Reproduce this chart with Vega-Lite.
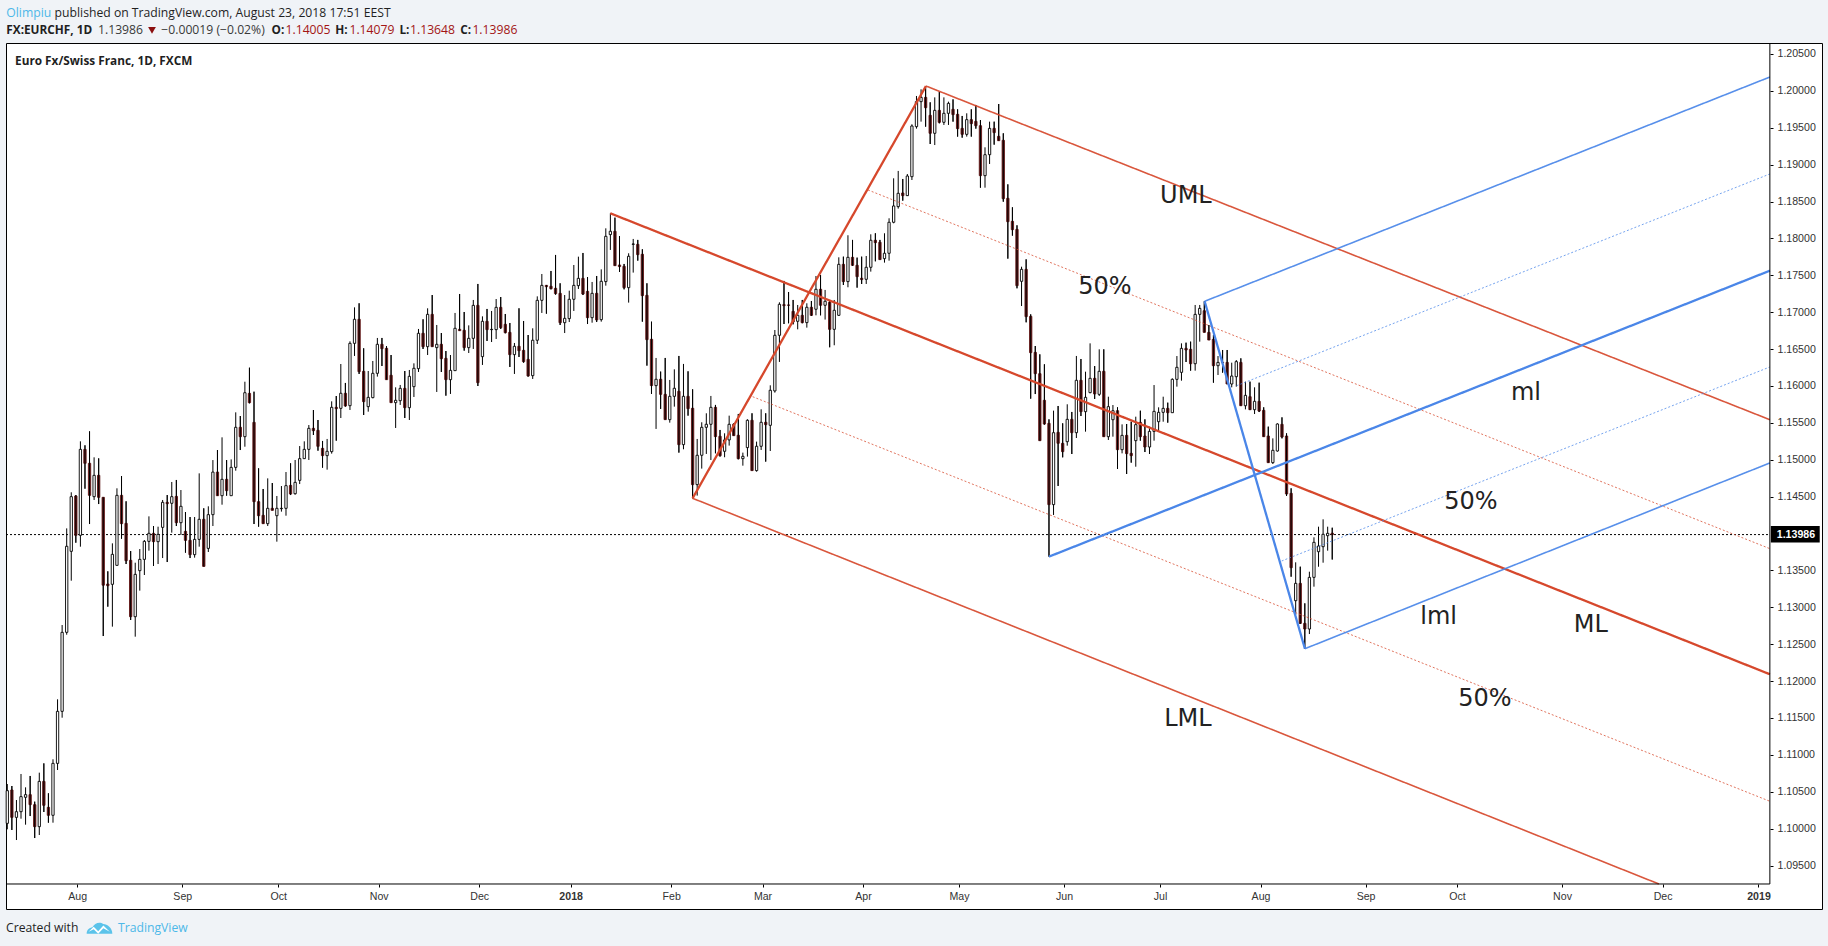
{
"$schema":"https://vega.github.io/schema/vega-lite/v6.json",
"width":1816,"height":866,
"autosize":"none",
"padding":{"left":6,"top":43,"right":6,"bottom":37},
"background":"#f0f3f7",
"view":{"fill":"#ffffff","stroke":"#000000","strokeWidth":1},
"datasets":{
"candles":[
{"n":0,"o":1.10072,"h":1.10605,"l":1.09991,"c":1.10515},{"n":1,"o":1.10524,"h":1.10578,"l":1.09982,"c":1.10153},{"n":2,"o":1.10153,"h":1.10388,"l":1.09846,"c":1.1023},{"n":3,"o":1.1023,"h":1.10741,"l":1.10135,"c":1.10434},{"n":4,"o":1.10425,"h":1.1056,"l":1.10054,"c":1.10461},{"n":5,"o":1.10461,"h":1.10714,"l":1.10171,"c":1.10325},{"n":6,"o":1.10325,"h":1.10366,"l":1.09873,"c":1.10027},{"n":7,"o":1.10027,"h":1.10759,"l":1.09914,"c":1.10641},{"n":8,"o":1.10641,"h":1.10885,"l":1.10226,"c":1.10316},{"n":9,"o":1.10289,"h":1.10479,"l":1.10081,"c":1.10181},
{"n":10,"o":1.10181,"h":1.1094,"l":1.10081,"c":1.10885},{"n":11,"o":1.10885,"h":1.11753,"l":1.10795,"c":1.1159},{"n":12,"o":1.1159,"h":1.1276,"l":1.11504,"c":1.12661},{"n":13,"o":1.12661,"h":1.1407,"l":1.12629,"c":1.13827},{"n":14,"o":1.13759,"h":1.14559,"l":1.13361,"c":1.145},{"n":15,"o":1.14509,"h":1.14522,"l":1.13876,"c":1.13976},{"n":16,"o":1.13976,"h":1.1525,"l":1.13822,"c":1.15141},{"n":17,"o":1.15141,"h":1.15196,"l":1.14608,"c":1.14952},{"n":18,"o":1.14952,"h":1.15385,"l":1.14129,"c":1.14518},{"n":19,"o":1.145,"h":1.15033,"l":1.14455,"c":1.14789},
{"n":20,"o":1.14789,"h":1.15019,"l":1.144,"c":1.14491},{"n":21,"o":1.14491,"h":1.14491,"l":1.12611,"c":1.133},{"n":22,"o":1.13316,"h":1.13488,"l":1.13009,"c":1.13293},{"n":23,"o":1.13312,"h":1.13867,"l":1.12738,"c":1.13718},{"n":24,"o":1.13569,"h":1.14613,"l":1.13569,"c":1.14518},{"n":25,"o":1.14518,"h":1.1478,"l":1.1393,"c":1.14134},{"n":26,"o":1.14138,"h":1.14437,"l":1.13587,"c":1.13632},{"n":27,"o":1.13637,"h":1.13763,"l":1.12828,"c":1.12873},{"n":28,"o":1.12873,"h":1.13605,"l":1.12602,"c":1.13447},{"n":29,"o":1.13497,"h":1.1379,"l":1.13226,"c":1.1365},
{"n":30,"o":1.1365,"h":1.13912,"l":1.13438,"c":1.13894},{"n":31,"o":1.13894,"h":1.14233,"l":1.13768,"c":1.14003},{"n":32,"o":1.14003,"h":1.14102,"l":1.1356,"c":1.1389},{"n":33,"o":1.1389,"h":1.14093,"l":1.13587,"c":1.13989},{"n":34,"o":1.14084,"h":1.14455,"l":1.13668,"c":1.14423},{"n":35,"o":1.14423,"h":1.14522,"l":1.13614,"c":1.14405},{"n":36,"o":1.1441,"h":1.14699,"l":1.14012,"c":1.145},{"n":37,"o":1.14504,"h":1.14726,"l":1.14102,"c":1.14147},{"n":38,"o":1.14147,"h":1.1459,"l":1.1398,"c":1.14369},{"n":39,"o":1.1403,"h":1.14292,"l":1.13741,"c":1.13908},
{"n":40,"o":1.13908,"h":1.14224,"l":1.13668,"c":1.13714},{"n":41,"o":1.13714,"h":1.14224,"l":1.13673,"c":1.13921},{"n":42,"o":1.13921,"h":1.14816,"l":1.13822,"c":1.14193},{"n":43,"o":1.14193,"h":1.14342,"l":1.13555,"c":1.13555},{"n":44,"o":1.13799,"h":1.14369,"l":1.1375,"c":1.14256},{"n":45,"o":1.14256,"h":1.14996,"l":1.14102,"c":1.14833},{"n":46,"o":1.14833,"h":1.15132,"l":1.14513,"c":1.14513},{"n":47,"o":1.14513,"h":1.15304,"l":1.14391,"c":1.14735},{"n":48,"o":1.14735,"h":1.14996,"l":1.14513,"c":1.14581},{"n":49,"o":1.14513,"h":1.15005,"l":1.14513,"c":1.14897},
{"n":50,"o":1.14897,"h":1.15643,"l":1.14852,"c":1.1544},{"n":51,"o":1.1544,"h":1.15593,"l":1.15132,"c":1.15313},{"n":52,"o":1.15313,"h":1.16058,"l":1.15177,"c":1.15909},{"n":53,"o":1.159,"h":1.16248,"l":1.15765,"c":1.15774},{"n":54,"o":1.15507,"h":1.15923,"l":1.14129,"c":1.14432},{"n":55,"o":1.14432,"h":1.14884,"l":1.14093,"c":1.14242},{"n":56,"o":1.14247,"h":1.14604,"l":1.14134,"c":1.14134},{"n":57,"o":1.14134,"h":1.14748,"l":1.14102,"c":1.14342},{"n":58,"o":1.14342,"h":1.14685,"l":1.14315,"c":1.14315},{"n":59,"o":1.14242,"h":1.14509,"l":1.1389,"c":1.14342},
{"n":60,"o":1.14337,"h":1.14644,"l":1.14297,"c":1.14342},{"n":61,"o":1.14342,"h":1.14834,"l":1.14242,"c":1.14649},{"n":62,"o":1.14653,"h":1.14952,"l":1.14522,"c":1.14536},{"n":63,"o":1.1454,"h":1.14997,"l":1.14527,"c":1.14694},{"n":64,"o":1.14721,"h":1.15186,"l":1.14671,"c":1.15015},{"n":65,"o":1.15015,"h":1.1525,"l":1.15015,"c":1.15141},{"n":66,"o":1.15141,"h":1.15471,"l":1.14997,"c":1.15426},{"n":67,"o":1.15426,"h":1.15674,"l":1.15336,"c":1.15394},{"n":68,"o":1.15399,"h":1.15539,"l":1.15123,"c":1.15182},{"n":69,"o":1.15155,"h":1.15255,"l":1.14893,"c":1.15056},
{"n":70,"o":1.15056,"h":1.15282,"l":1.14866,"c":1.15115},{"n":71,"o":1.1511,"h":1.15792,"l":1.15083,"c":1.15711},{"n":72,"o":1.15711,"h":1.15864,"l":1.15259,"c":1.15693},{"n":73,"o":1.15697,"h":1.16298,"l":1.15566,"c":1.15901},{"n":74,"o":1.15901,"h":1.16041,"l":1.1572,"c":1.15729},{"n":75,"o":1.15733,"h":1.16605,"l":1.15675,"c":1.16578},{"n":76,"o":1.16578,"h":1.17066,"l":1.16407,"c":1.16904},{"n":77,"o":1.16904,"h":1.17121,"l":1.16163,"c":1.16194},{"n":78,"o":1.16199,"h":1.16511,"l":1.15607,"c":1.15788},{"n":79,"o":1.1572,"h":1.16203,"l":1.15652,"c":1.15846},
{"n":80,"o":1.15842,"h":1.16339,"l":1.15833,"c":1.16172},{"n":81,"o":1.16172,"h":1.16651,"l":1.16127,"c":1.16565},{"n":82,"o":1.16565,"h":1.16651,"l":1.16271,"c":1.16506},{"n":83,"o":1.16511,"h":1.16542,"l":1.16086,"c":1.16086},{"n":84,"o":1.16145,"h":1.1642,"l":1.15774,"c":1.15774},{"n":85,"o":1.15774,"h":1.15982,"l":1.15431,"c":1.15806},{"n":86,"o":1.15801,"h":1.16014,"l":1.15743,"c":1.15968},{"n":87,"o":1.15968,"h":1.16203,"l":1.15566,"c":1.15706},{"n":88,"o":1.15706,"h":1.16217,"l":1.15539,"c":1.16131},{"n":89,"o":1.15991,"h":1.16307,"l":1.15851,"c":1.1624},
{"n":90,"o":1.16235,"h":1.16773,"l":1.1619,"c":1.16714},{"n":91,"o":1.16714,"h":1.16904,"l":1.16502,"c":1.16533},{"n":92,"o":1.16533,"h":1.17053,"l":1.1642,"c":1.16971},{"n":93,"o":1.16971,"h":1.17233,"l":1.16533,"c":1.16533},{"n":94,"o":1.1652,"h":1.16827,"l":1.15919,"c":1.16565},{"n":95,"o":1.16565,"h":1.16718,"l":1.1619,"c":1.1637},{"n":96,"o":1.16375,"h":1.16474,"l":1.15869,"c":1.16086},{"n":97,"o":1.16086,"h":1.1642,"l":1.15892,"c":1.16212},{"n":98,"o":1.16208,"h":1.1699,"l":1.16208,"c":1.16782},{"n":99,"o":1.16768,"h":1.17247,"l":1.1675,"c":1.1675},
{"n":100,"o":1.16755,"h":1.17003,"l":1.16479,"c":1.1652},{"n":101,"o":1.1652,"h":1.16822,"l":1.16447,"c":1.16646},{"n":102,"o":1.16646,"h":1.17166,"l":1.16502,"c":1.17093},{"n":103,"o":1.17093,"h":1.17383,"l":1.16,"c":1.16045},{"n":104,"o":1.16398,"h":1.16944,"l":1.16285,"c":1.16877},{"n":105,"o":1.16877,"h":1.17044,"l":1.1661,"c":1.16764},{"n":106,"o":1.16764,"h":1.17017,"l":1.16596,"c":1.16768},{"n":107,"o":1.16764,"h":1.17179,"l":1.16637,"c":1.17066},{"n":108,"o":1.17066,"h":1.17206,"l":1.16773,"c":1.16791},{"n":109,"o":1.16836,"h":1.16976,"l":1.16714,"c":1.16723},
{"n":110,"o":1.16727,"h":1.16854,"l":1.16258,"c":1.16425},{"n":111,"o":1.16425,"h":1.16583,"l":1.16163,"c":1.16538},{"n":112,"o":1.16538,"h":1.17053,"l":1.16393,"c":1.16479},{"n":113,"o":1.16483,"h":1.16881,"l":1.16316,"c":1.1633},{"n":114,"o":1.16361,"h":1.16691,"l":1.16127,"c":1.16136},{"n":115,"o":1.1614,"h":1.16782,"l":1.16095,"c":1.1662},{"n":116,"o":1.1662,"h":1.17215,"l":1.16569,"c":1.17161},{"n":117,"o":1.17161,"h":1.17518,"l":1.1699,"c":1.17364},{"n":118,"o":1.17364,"h":1.17369,"l":1.1698,"c":1.17346},{"n":119,"o":1.17351,"h":1.17559,"l":1.1731,"c":1.17319},
{"n":120,"o":1.17324,"h":1.17776,"l":1.17238,"c":1.17252},{"n":121,"o":1.17256,"h":1.17392,"l":1.16827,"c":1.16858},{"n":122,"o":1.16858,"h":1.17233,"l":1.16718,"c":1.16917},{"n":123,"o":1.16913,"h":1.17292,"l":1.16867,"c":1.17175},{"n":124,"o":1.17175,"h":1.1764,"l":1.17017,"c":1.17364},{"n":125,"o":1.1736,"h":1.17753,"l":1.17315,"c":1.17459},{"n":126,"o":1.17459,"h":1.17803,"l":1.17233,"c":1.17247},{"n":127,"o":1.17283,"h":1.17477,"l":1.1684,"c":1.16926},{"n":128,"o":1.16926,"h":1.1741,"l":1.16858,"c":1.17256},{"n":129,"o":1.17256,"h":1.17491,"l":1.16867,"c":1.16895},
{"n":130,"o":1.16899,"h":1.17581,"l":1.16872,"c":1.17419},{"n":131,"o":1.17415,"h":1.18137,"l":1.1736,"c":1.18029},{"n":132,"o":1.18052,"h":1.18341,"l":1.17844,"c":1.18097},{"n":133,"o":1.18097,"h":1.18282,"l":1.17631,"c":1.17631},{"n":134,"o":1.1764,"h":1.18033,"l":1.17546,"c":1.17618},{"n":135,"o":1.17622,"h":1.17654,"l":1.1731,"c":1.17333},{"n":136,"o":1.17333,"h":1.17799,"l":1.1713,"c":1.17758},{"n":137,"o":1.1792,"h":1.17993,"l":1.17537,"c":1.17925},{"n":138,"o":1.1792,"h":1.1798,"l":1.17699,"c":1.1778},{"n":139,"o":1.17785,"h":1.17853,"l":1.16872,"c":1.17225},
{"n":140,"o":1.17229,"h":1.17392,"l":1.16276,"c":1.16628},{"n":141,"o":1.16633,"h":1.16872,"l":1.15892,"c":1.16005},{"n":142,"o":1.16005,"h":1.1638,"l":1.15418,"c":1.16091},{"n":143,"o":1.16091,"h":1.16195,"l":1.15689,"c":1.15887},{"n":144,"o":1.15887,"h":1.1638,"l":1.15544,"c":1.15544},{"n":145,"o":1.15544,"h":1.16082,"l":1.15503,"c":1.1586},{"n":146,"o":1.1586,"h":1.16226,"l":1.1572,"c":1.15969},{"n":147,"o":1.15928,"h":1.16407,"l":1.15097,"c":1.15205},{"n":148,"o":1.15205,"h":1.16299,"l":1.15142,"c":1.1586},{"n":149,"o":1.1586,"h":1.16199,"l":1.15598,"c":1.15693},
{"n":150,"o":1.15698,"h":1.15955,"l":1.14478,"c":1.14663},{"n":151,"o":1.14663,"h":1.15282,"l":1.14514,"c":1.15061},{"n":152,"o":1.15061,"h":1.15508,"l":1.1488,"c":1.1544},{"n":153,"o":1.1544,"h":1.1563,"l":1.15079,"c":1.15481},{"n":154,"o":1.15481,"h":1.15865,"l":1.14997,"c":1.15711},{"n":155,"o":1.15711,"h":1.15743,"l":1.15088,"c":1.15314},{"n":156,"o":1.15318,"h":1.15404,"l":1.15043,"c":1.15056},{"n":157,"o":1.15115,"h":1.15359,"l":1.15034,"c":1.15269},{"n":158,"o":1.15269,"h":1.15598,"l":1.15192,"c":1.15481},{"n":159,"o":1.15481,"h":1.15494,"l":1.15327,"c":1.15327},
{"n":160,"o":1.15332,"h":1.15621,"l":1.15006,"c":1.15015},{"n":161,"o":1.15015,"h":1.15097,"l":1.1492,"c":1.15047},{"n":162,"o":1.15165,"h":1.15549,"l":1.15043,"c":1.15535},{"n":163,"o":1.15535,"h":1.1563,"l":1.14853,"c":1.14853},{"n":164,"o":1.14853,"h":1.15246,"l":1.14839,"c":1.15183},{"n":165,"o":1.15183,"h":1.15684,"l":1.15133,"c":1.15508},{"n":166,"o":1.15508,"h":1.1563,"l":1.14975,"c":1.15476},{"n":167,"o":1.15467,"h":1.16009,"l":1.15119,"c":1.15942},{"n":168,"o":1.15933,"h":1.16759,"l":1.1591,"c":1.16687},{"n":169,"o":1.16687,"h":1.17134,"l":1.16326,"c":1.17107},
{"n":170,"o":1.17103,"h":1.17424,"l":1.1684,"c":1.17089},{"n":171,"o":1.17098,"h":1.17274,"l":1.1685,"c":1.17094},{"n":172,"o":1.17012,"h":1.17166,"l":1.16836,"c":1.16868},{"n":173,"o":1.16877,"h":1.17098,"l":1.16768,"c":1.16958},{"n":174,"o":1.16958,"h":1.17166,"l":1.1685,"c":1.16859},{"n":175,"o":1.16859,"h":1.17121,"l":1.16791,"c":1.17067},{"n":176,"o":1.17067,"h":1.17152,"l":1.16949,"c":1.16958},{"n":177,"o":1.1704,"h":1.17491,"l":1.16958,"c":1.17311},{"n":178,"o":1.17311,"h":1.17505,"l":1.16958,"c":1.17094},{"n":179,"o":1.17094,"h":1.17302,"l":1.169,"c":1.17148},
{"n":180,"o":1.17134,"h":1.17166,"l":1.16525,"c":1.16768},{"n":181,"o":1.16768,"h":1.17166,"l":1.16552,"c":1.17026},{"n":182,"o":1.16958,"h":1.17744,"l":1.16949,"c":1.17649},{"n":183,"o":1.17649,"h":1.17753,"l":1.17369,"c":1.17415},{"n":184,"o":1.17415,"h":1.18043,"l":1.17338,"c":1.17744},{"n":185,"o":1.17744,"h":1.1798,"l":1.17627,"c":1.17636},{"n":186,"o":1.17636,"h":1.1774,"l":1.17333,"c":1.17482},{"n":187,"o":1.1746,"h":1.17753,"l":1.17383,"c":1.17442},{"n":188,"o":1.17446,"h":1.17762,"l":1.17383,"c":1.17609},{"n":189,"o":1.17609,"h":1.18056,"l":1.1755,"c":1.17975},
{"n":190,"o":1.17975,"h":1.1807,"l":1.1769,"c":1.17943},{"n":191,"o":1.17948,"h":1.1798,"l":1.17713,"c":1.17713},{"n":192,"o":1.17726,"h":1.1807,"l":1.17672,"c":1.17799},{"n":193,"o":1.17799,"h":1.18273,"l":1.17699,"c":1.18219},{"n":194,"o":1.18219,"h":1.18815,"l":1.18205,"c":1.1844},{"n":195,"o":1.18431,"h":1.18915,"l":1.18404,"c":1.18612},{"n":196,"o":1.18616,"h":1.18806,"l":1.18512,"c":1.1858},{"n":197,"o":1.1858,"h":1.18873,"l":1.18575,"c":1.18846},{"n":198,"o":1.18837,"h":1.19547,"l":1.18792,"c":1.19524},{"n":199,"o":1.19515,"h":1.19931,"l":1.19488,"c":1.19854},
{"n":200,"o":1.19854,"h":1.20021,"l":1.19583,"c":1.19912},{"n":201,"o":1.19912,"h":1.20066,"l":1.19515,"c":1.19772},{"n":202,"o":1.19669,"h":1.19845,"l":1.1928,"c":1.19425},{"n":203,"o":1.19425,"h":1.19912,"l":1.19266,"c":1.19736},{"n":204,"o":1.19736,"h":1.19985,"l":1.1956,"c":1.19574},{"n":205,"o":1.19574,"h":1.19912,"l":1.19538,"c":1.19696},{"n":206,"o":1.19696,"h":1.19854,"l":1.19538,"c":1.19831},{"n":207,"o":1.1975,"h":1.19885,"l":1.19583,"c":1.19678},{"n":208,"o":1.19682,"h":1.1975,"l":1.1938,"c":1.19488},{"n":209,"o":1.19492,"h":1.1966,"l":1.19366,"c":1.19411},
{"n":210,"o":1.19411,"h":1.19696,"l":1.1938,"c":1.1961},{"n":211,"o":1.1961,"h":1.1975,"l":1.1938,"c":1.19556},{"n":212,"o":1.19587,"h":1.19809,"l":1.19488,"c":1.19528},{"n":213,"o":1.19528,"h":1.19605,"l":1.18688,"c":1.18851},{"n":214,"o":1.18851,"h":1.19235,"l":1.18688,"c":1.19135},{"n":215,"o":1.19135,"h":1.19583,"l":1.19009,"c":1.19492},{"n":216,"o":1.19492,"h":1.19583,"l":1.19271,"c":1.19434},{"n":217,"o":1.19384,"h":1.19822,"l":1.19325,"c":1.19325},{"n":218,"o":1.1933,"h":1.19425,"l":1.18498,"c":1.18539},{"n":219,"o":1.18544,"h":1.18733,"l":1.17726,"c":1.18227},
{"n":220,"o":1.18232,"h":1.18422,"l":1.18038,"c":1.18119},{"n":221,"o":1.18123,"h":1.18178,"l":1.17324,"c":1.1736},{"n":222,"o":1.17419,"h":1.17617,"l":1.17084,"c":1.17581},{"n":223,"o":1.17581,"h":1.17717,"l":1.16863,"c":1.1694},{"n":224,"o":1.16944,"h":1.16971,"l":1.15828,"c":1.16452},{"n":225,"o":1.16456,"h":1.16542,"l":1.15891,"c":1.16167},{"n":226,"o":1.16167,"h":1.16429,"l":1.15259,"c":1.15259},{"n":227,"o":1.15806,"h":1.16294,"l":1.15476,"c":1.15485},{"n":228,"o":1.15494,"h":1.15548,"l":1.13687,"c":1.14392},{"n":229,"o":1.14392,"h":1.15666,"l":1.14252,"c":1.15367},
{"n":230,"o":1.15372,"h":1.15729,"l":1.14645,"c":1.15223},{"n":231,"o":1.15223,"h":1.15494,"l":1.15033,"c":1.1511},{"n":232,"o":1.15245,"h":1.15752,"l":1.15191,"c":1.15548},{"n":233,"o":1.15548,"h":1.15648,"l":1.15078,"c":1.15367},{"n":234,"o":1.15367,"h":1.16407,"l":1.15295,"c":1.16077},{"n":235,"o":1.16077,"h":1.16366,"l":1.15593,"c":1.15652},{"n":236,"o":1.15652,"h":1.16194,"l":1.15381,"c":1.15846},{"n":237,"o":1.1591,"h":1.16578,"l":1.15901,"c":1.16104},{"n":238,"o":1.16104,"h":1.1627,"l":1.15824,"c":1.15892},{"n":239,"o":1.15887,"h":1.16497,"l":1.15864,"c":1.16199},
{"n":240,"o":1.16199,"h":1.16497,"l":1.15313,"c":1.15313},{"n":241,"o":1.15313,"h":1.15855,"l":1.15268,"c":1.1572},{"n":242,"o":1.15543,"h":1.15742,"l":1.15313,"c":1.15665},{"n":243,"o":1.15665,"h":1.15711,"l":1.14875,"c":1.15137},{"n":244,"o":1.15137,"h":1.1548,"l":1.15087,"c":1.15331},{"n":245,"o":1.15331,"h":1.15485,"l":1.14807,"c":1.15083},{"n":246,"o":1.15087,"h":1.15516,"l":1.14961,"c":1.15056},{"n":247,"o":1.15259,"h":1.15584,"l":1.14906,"c":1.15476},{"n":248,"o":1.15507,"h":1.15665,"l":1.15259,"c":1.15313},{"n":249,"o":1.15322,"h":1.15548,"l":1.15105,"c":1.15173},
{"n":250,"o":1.15173,"h":1.15449,"l":1.15078,"c":1.15385},{"n":251,"o":1.15385,"h":1.16013,"l":1.15259,"c":1.15656},{"n":252,"o":1.15516,"h":1.15711,"l":1.15381,"c":1.15643},{"n":253,"o":1.15643,"h":1.15855,"l":1.15516,"c":1.15697},{"n":254,"o":1.15697,"h":1.15774,"l":1.15503,"c":1.15638},{"n":255,"o":1.15638,"h":1.16104,"l":1.15638,"c":1.1609},{"n":256,"o":1.1609,"h":1.16406,"l":1.15991,"c":1.16253},{"n":257,"o":1.16185,"h":1.16578,"l":1.16072,"c":1.1651},{"n":258,"o":1.1651,"h":1.16587,"l":1.16325,"c":1.16488},{"n":259,"o":1.16497,"h":1.16601,"l":1.16208,"c":1.16302},
{"n":260,"o":1.16302,"h":1.17098,"l":1.16208,"c":1.16971},{"n":261,"o":1.16971,"h":1.17098,"l":1.16601,"c":1.17052},{"n":262,"o":1.1702,"h":1.17147,"l":1.16727,"c":1.16727},{"n":263,"o":1.16727,"h":1.16827,"l":1.16623,"c":1.16623},{"n":264,"o":1.16632,"h":1.1669,"l":1.16045,"c":1.16275},{"n":265,"o":1.16275,"h":1.16406,"l":1.16149,"c":1.1632},{"n":266,"o":1.1632,"h":1.16488,"l":1.16181,"c":1.16316},{"n":267,"o":1.1632,"h":1.16488,"l":1.16027,"c":1.16027},{"n":268,"o":1.16027,"h":1.16316,"l":1.15982,"c":1.16135},{"n":269,"o":1.16126,"h":1.16352,"l":1.15991,"c":1.1633},
{"n":270,"o":1.1632,"h":1.16375,"l":1.15733,"c":1.15733},{"n":271,"o":1.15733,"h":1.16059,"l":1.15683,"c":1.15873},{"n":272,"o":1.15855,"h":1.16059,"l":1.15674,"c":1.15679},{"n":273,"o":1.15679,"h":1.15982,"l":1.1562,"c":1.15792},{"n":274,"o":1.15792,"h":1.16045,"l":1.15647,"c":1.15661},{"n":275,"o":1.1567,"h":1.15711,"l":1.15313,"c":1.15313},{"n":276,"o":1.15322,"h":1.15449,"l":1.14961,"c":1.14961},{"n":277,"o":1.14961,"h":1.1529,"l":1.14943,"c":1.15128},{"n":278,"o":1.15119,"h":1.15494,"l":1.1511,"c":1.15485},{"n":279,"o":1.1548,"h":1.15575,"l":1.1529,"c":1.15309},
{"n":280,"o":1.15322,"h":1.15358,"l":1.14509,"c":1.14536},{"n":281,"o":1.14545,"h":1.14613,"l":1.13415,"c":1.13537},{"n":282,"o":1.1309,"h":1.1361,"l":1.12896,"c":1.13325},{"n":283,"o":1.13325,"h":1.13551,"l":1.12774,"c":1.12783},{"n":284,"o":1.12783,"h":1.13054,"l":1.12439,"c":1.12706},{"n":285,"o":1.12706,"h":1.13483,"l":1.12638,"c":1.13406},{"n":286,"o":1.13406,"h":1.13949,"l":1.1328,"c":1.13881},{"n":287,"o":1.13754,"h":1.14093,"l":1.1355,"c":1.13831},{"n":288,"o":1.13822,"h":1.14193,"l":1.13605,"c":1.1399},{"n":289,"o":1.13971,"h":1.14093,"l":1.13768,"c":1.14003},
{"n":290,"o":1.14005,"h":1.14079,"l":1.13648,"c":1.13986}
],
"forks":[
{"line":"AB","fork":"red","role":"main","n":150,"price":1.14478},{"line":"AB","fork":"red","role":"main","n":201.07,"price":1.20066},
{"line":"ML","fork":"red","role":"main","n":131.98,"price":1.18341},{"line":"ML","fork":"red","role":"main","n":385.79,"price":1.12093},
{"line":"UML","fork":"red","role":"side","n":201.07,"price":1.20066},{"line":"UML","fork":"red","role":"side","n":385.79,"price":1.15543},
{"line":"LML","fork":"red","role":"side","n":150,"price":1.14478},{"line":"LML","fork":"red","role":"side","n":361.5,"price":1.0925},
{"line":"U50","fork":"red","role":"half","n":188.38,"price":1.18657},{"line":"U50","fork":"red","role":"half","n":385.79,"price":1.13795},
{"line":"L50","fork":"red","role":"half","n":163.14,"price":1.15855},{"line":"L50","fork":"red","role":"half","n":385.79,"price":1.10371},
{"line":"EF","fork":"blue","role":"main","n":262.07,"price":1.17148},{"line":"EF","fork":"blue","role":"main","n":284.02,"price":1.12439},
{"line":"ml","fork":"blue","role":"main","n":228,"price":1.13687},{"line":"ml","fork":"blue","role":"main","n":385.79,"price":1.17563},
{"line":"uml","fork":"blue","role":"side","n":262.07,"price":1.17148},{"line":"uml","fork":"blue","role":"side","n":385.79,"price":1.20188},
{"line":"lml","fork":"blue","role":"side","n":284.02,"price":1.12439},{"line":"lml","fork":"blue","role":"side","n":385.79,"price":1.14957},
{"line":"u50","fork":"blue","role":"half","n":269.07,"price":1.16004},{"line":"u50","fork":"blue","role":"half","n":385.79,"price":1.18874},
{"line":"l50","fork":"blue","role":"half","n":278.93,"price":1.13628},{"line":"l50","fork":"blue","role":"half","n":385.79,"price":1.16258}
],
"edges":[
{"line":"yAxis","n":385.79,"price":1.20649},{"line":"yAxis","n":385.79,"price":1.0925},
{"line":"xAxis","n":-0.285,"price":1.0925},{"line":"xAxis","n":385.79,"price":1.0925}
],
"last":[{"n":-0.285,"price":1.13986},{"n":385.79,"price":1.13986}],
"tag":[{"n":386,"n2":396.7,"price":1.14103,"price2":1.13877}],
"labels":[
{"text":"UML","n":257.97,"price":1.18575},{"text":"50%","n":240.25,"price":1.17335},{"text":"ml","n":332.4,"price":1.15909},{"text":"50%","n":320.35,"price":1.14425},
{"text":"lml","n":313.3,"price":1.12875},{"text":"ML","n":346.6,"price":1.12765},{"text":"50%","n":323.4,"price":1.11755},{"text":"LML","n":258.4,"price":1.1148}
],
"plain":[
{"text":"Olimpiu","kind":"link","n":-0.22,"price":1.21062},
{"text":"published on TradingView.com, August 23, 2018 17:51 EEST","kind":"ink","n":10.35,"price":1.21062},
{"text":"1.13986","kind":"grey","n":19.85,"price":1.20819},
{"text":"−0.00019 (−0.02%)","kind":"grey","n":33.7,"price":1.20819},
{"text":"1.14005","kind":"down","n":60.89,"price":1.20819},
{"text":"1.14079","kind":"down","n":74.89,"price":1.20819},
{"text":"1.13648","kind":"down","n":88.14,"price":1.20819},
{"text":"1.13986","kind":"down","n":101.8,"price":1.20819},
{"text":"Created with","kind":"ink","n":-0.285,"price":1.08654},
{"text":"TradingView","kind":"link","n":24.23,"price":1.08654}
],
"bold":[
{"text":"FX:EURCHF, 1D","n":-0.22,"price":1.20819},
{"text":"O:","n":57.85,"price":1.20819},
{"text":"H:","n":71.79,"price":1.20819},
{"text":"L:","n":85.82,"price":1.20819},
{"text":"C:","n":99.15,"price":1.20819},
{"text":"Euro Fx/Swiss Franc, 1D, FXCM","n":1.69,"price":1.20405}
],
"tagText":[{"text":"1.13986","n":387.3,"price":1.13986}],
"arrow":[{"n":31.67,"price":1.20819}],
"logo":[{"n":20.18,"price":1.08654}]
},
"encoding":{
"x":{"field":"n","type":"quantitative","title":null,
"scale":{"domain":[-0.285,397.2],"nice":false,"zero":false,"padding":0},
"axis":{"orient":"bottom","offset":-25,"domain":false,"grid":false,"tickColor":"#000000","tickSize":3,"labelPadding":4,"labelFont":"Liberation Sans","labelFontSize":10.6,"labelColor":"#333333","labelFlush":false,"labelOverlap":false,
"values":[15.3,38.3,59.3,81.3,103.3,123.3,145.3,165.3,187.3,208.3,231.3,252.3,274.3,297.3,317.3,340.3,362.3,383.3],
"labelExpr":"{'15.3':'Aug','38.3':'Sep','59.3':'Oct','81.3':'Nov','103.3':'Dec','123.3':'2018','145.3':'Feb','165.3':'Mar','187.3':'Apr','208.3':'May','231.3':'Jun','252.3':'Jul','274.3':'Aug','297.3':'Sep','317.3':'Oct','340.3':'Nov','362.3':'Dec','383.3':'2019'}[datum.value]",
"labelFontWeight":{"condition":{"test":"datum.value===123.3||datum.value===383.3","value":"bold"},"value":"normal"}}},
"y":{"field":"price","type":"quantitative","title":null,
"scale":{"domain":[1.08911,1.20649],"nice":false,"zero":false},
"axis":{"orient":"right","offset":-52,"domain":false,"grid":false,"tickColor":"#000000","tickSize":3,"labelPadding":4,"labelFont":"Liberation Sans","labelFontSize":10.6,"labelColor":"#333333","labelFlush":false,"labelOverlap":false,"format":".5f",
"values":[1.095,1.1,1.105,1.11,1.115,1.12,1.125,1.13,1.135,1.145,1.15,1.155,1.16,1.165,1.17,1.175,1.18,1.185,1.19,1.195,1.2,1.205]}}
},
"resolve":{"scale":{"color":"independent"}},
"layer":[
{"data":{"name":"last"},"mark":{"type":"line","color":"#000000","strokeWidth":1,"strokeDash":[2,2]}},
{"data":{"name":"candles"},"mark":{"type":"rule","color":"#000000","strokeWidth":1},
 "encoding":{"y":{"field":"h","type":"quantitative"},"y2":{"field":"l"}}},
{"data":{"name":"candles"},"mark":{"type":"bar","size":2.3,"strokeWidth":0.9,"orient":"vertical"},
 "encoding":{"y":{"field":"o","type":"quantitative"},"y2":{"field":"c"},
  "fill":{"condition":{"test":"datum.c<datum.o","value":"#6b1a1a"},"value":"#ffffff"},
  "stroke":{"condition":{"test":"datum.c<datum.o","value":"#5e1515"},"value":"#000000"}}},
{"data":{"name":"candles"},"transform":[{"filter":"datum.c<datum.o"}],"mark":{"type":"rule","color":"#000000","strokeWidth":1},
 "encoding":{"y":{"field":"h","type":"quantitative"},"y2":{"field":"l"}}},
{"data":{"name":"forks"},"mark":{"type":"line","clip":false},
 "encoding":{"detail":{"field":"line"},
  "color":{"field":"fork","type":"nominal","legend":null,"scale":{"domain":["red","blue"],"range":["#d6482c","#4a86e8"]}},
  "opacity":{"field":"role","type":"nominal","legend":null,"scale":{"domain":["main","side","half"],"range":[1,0.85,0.85]}},
  "strokeWidth":{"field":"role","type":"nominal","legend":null,"scale":{"domain":["main","side","half"],"range":[2.3,0.9,1]}},
  "strokeDash":{"field":"role","type":"nominal","legend":null,"scale":{"domain":["main","side","half"],"range":[[1,0],[1,0],[2,2]]}}}},
{"data":{"name":"edges"},"mark":{"type":"line","color":"#000000","strokeWidth":1},"encoding":{"detail":{"field":"line"}}},
{"data":{"name":"labels"},"mark":{"type":"text","font":"DejaVu Sans","fontSize":24,"color":"#222222","align":"center","baseline":"middle"},
 "encoding":{"text":{"field":"text"}}},
{"data":{"name":"tag"},"mark":{"type":"rect","color":"#000000","clip":false},
 "encoding":{"x":{"field":"n","type":"quantitative"},"x2":{"field":"n2"},"y":{"field":"price","type":"quantitative"},"y2":{"field":"price2"}}},
{"data":{"name":"tagText"},"mark":{"type":"text","font":"Liberation Sans","fontSize":10.6,"fontWeight":"bold","color":"#ffffff","align":"left","baseline":"middle"},
 "encoding":{"text":{"field":"text"}}},
{"data":{"name":"plain"},"mark":{"type":"text","font":"Open Sans","fontSize":12.2,"align":"left","baseline":"middle"},
 "encoding":{"text":{"field":"text"},
  "color":{"field":"kind","type":"nominal","legend":null,"scale":{"domain":["link","ink","grey","down"],"range":["#4db8e8","#1f1f1f","#3a3a3a","#a31515"]}}}},
{"data":{"name":"bold"},"mark":{"type":"text","font":"Open Sans","fontSize":11.8,"fontWeight":"bold","color":"#1f1f1f","align":"left","baseline":"middle"},
 "encoding":{"text":{"field":"text"}}},
{"data":{"name":"arrow"},"mark":{"type":"point","shape":"triangle-down","filled":true,"size":60,"color":"#8b0f0f","opacity":1}},
{"data":{"name":"logo"},"mark":{"type":"point","shape":"M-1,0.45 C-1,0.15 -0.8,0 -0.55,-0.05 C-0.4,-0.35 0,-0.55 0.3,-0.3 C0.6,-0.3 1,0 1,0.45 Z","filled":true,"size":660,"color":"#5bc3ea","opacity":1}},
{"data":{"name":"logo"},"mark":{"type":"point","shape":"M-0.85,0.3 L-0.45,-0.1 L-0.1,0.25 L0.3,-0.2 L0.8,0.3 L0.3,0.02 L-0.1,0.45 L-0.45,0.1 Z","filled":true,"size":660,"color":"#ffffff","opacity":1}}
]
}
